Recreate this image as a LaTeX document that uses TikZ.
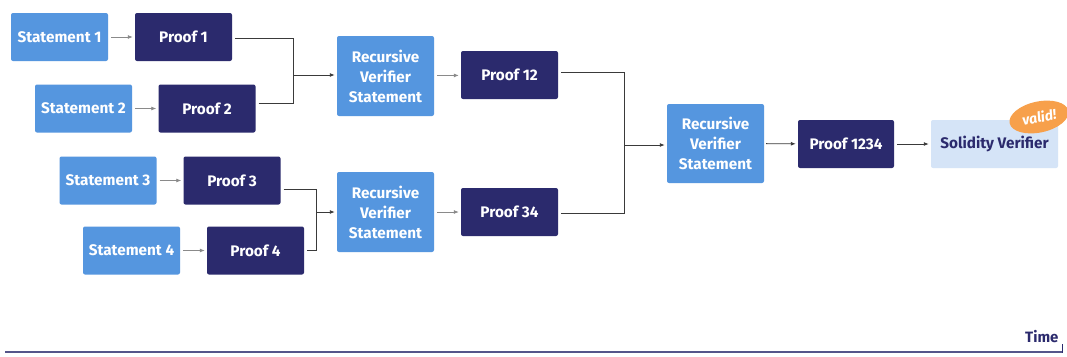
\documentclass[tikz,border=0pt]{standalone}
\usepackage{fontspec}
\setmainfont{Fira Sans}
\usetikzlibrary{arrows.meta,shapes.geometric}
\definecolor{stmt}{HTML}{5596DF}
\definecolor{proof}{HTML}{2B2A6D}
\definecolor{sol}{HTML}{D5E4F7}
\definecolor{badge}{HTML}{F7A04B}
\definecolor{wire}{HTML}{3A3A3A}
\definecolor{thin}{HTML}{8A8A8A}
\tikzset{
  box/.style={rectangle, rounded corners=2pt, inner sep=0pt, align=center,
    font=\bfseries\fontsize{15.3}{20}\selectfont},
  stmtbox/.style={box, fill=stmt, text=white, minimum width=97pt, minimum height=48pt},
  recbox/.style={box, fill=stmt, text=white, minimum width=97pt, minimum height=80pt},
  proofbox/.style={box, fill=proof, text=white, minimum width=97pt, minimum height=48pt},
  solbox/.style={box, fill=sol, text=proof, minimum width=127pt, minimum height=48pt},
  feed/.style={draw=thin, line width=0.8pt, shorten <=3pt, shorten >=2pt,
    -{Latex[length=5pt,width=4pt]}},
  merge/.style={draw=wire, line width=0.9pt},
  mergearrow/.style={draw=wire, line width=0.9pt, shorten >=2pt,
    -{Latex[length=5pt,width=4pt]}},
}
\begin{document}
\begin{tikzpicture}[x=1pt,y=-1pt]
\useasboundingbox (0,0) rectangle (1067,356);
\fill[white] (0,0) rectangle (1067,356);

% first layer: statements and their proofs
\node[stmtbox] (s1) at (59.5,37) {Statement 1};
\node[proofbox] (p1) at (183.5,37) {Proof 1};
\node[stmtbox] (s2) at (83.5,108.5) {Statement 2};
\node[proofbox] (p2) at (207,108.5) {Proof 2};
\node[stmtbox] (s3) at (108,180.5) {Statement 3};
\node[proofbox] (p3) at (232,180.5) {Proof 3};
\node[stmtbox] (s4) at (131.5,250.5) {Statement 4};
\node[proofbox] (p4) at (255.5,250.5) {Proof 4};

% second layer: recursive verification of pairs
\node[recbox] (r1) at (385.5,76) {Recursive\\Verifier\\Statement};
\node[proofbox] (p12) at (509.5,75) {Proof 12};
\node[recbox] (r2) at (385.5,212) {Recursive\\Verifier\\Statement};
\node[proofbox] (p34) at (509.5,212) {Proof 34};

% third layer
\node[recbox, minimum height=79pt] (r3) at (715.5,143.5) {Recursive\\Verifier\\Statement};
\node[proofbox, minimum width=96pt] (p1234) at (846,144) {Proof 1234};
\node[solbox] (sv) at (994.5,144) {Solidity Verifier};
\node[ellipse, fill=badge, minimum width=60pt, minimum height=31pt, inner sep=0pt,
  rotate=12, text=white, font=\bfseries\itshape\fontsize{14}{15}\selectfont]
  (ok) at (1039,117) {valid!};

% statement -> proof
\draw[feed] (s1) -- (p1);
\draw[feed] (s2) -- (p2);
\draw[feed] (s3) -- (p3);
\draw[feed] (s4) -- (p4);

% proofs 1 and 2 merge
\coordinate (j1) at (293,75);
\draw[merge, shorten <=3pt] ([yshift=-1pt]p1.east) -| (j1);
\draw[merge, shorten <=3pt] ([yshift=5.5pt]p2.east) -| (j1);
\draw[mergearrow] (j1) -- (r1.west |- j1);

% proofs 3 and 4 merge
\coordinate (j2) at (316,212);
\draw[merge, shorten <=3pt] ([yshift=-8.5pt]p3.east) -| (j2);
\draw[merge, shorten <=3pt] ([yshift=0.5pt]p4.east) -| (j2);
\draw[mergearrow] (j2) -- (r2.west |- j2);

% recursive steps
\draw[feed] (r1) -- (p12);
\draw[feed] (r2) -- (p34);

% proofs 12 and 34 merge
\coordinate (j3) at (624,145);
\draw[merge, shorten <=3pt] ([yshift=3pt]p12.east) -| (j3);
\draw[merge, shorten <=3pt] ([yshift=-1pt]p34.east) -| (j3);
\draw[mergearrow] (j3) -- (r3.west |- j3);

\draw[mergearrow, shorten <=2pt] (r3) -- (p1234);
\draw[mergearrow, shorten <=3pt] (p1234) -- (sv);

% time axis
\coordinate (t0) at (5,352);
\coordinate (t1) at (1062,352);
\draw[proof!80, line width=2pt] (t0) -- (t1);
\draw[proof, line width=1pt] (1062,344) -- (1062,353);
\node[anchor=east, text=proof, font=\bfseries\fontsize{15}{16}\selectfont] (tl) at (1062,337) {Time};
\end{tikzpicture}
\end{document}
